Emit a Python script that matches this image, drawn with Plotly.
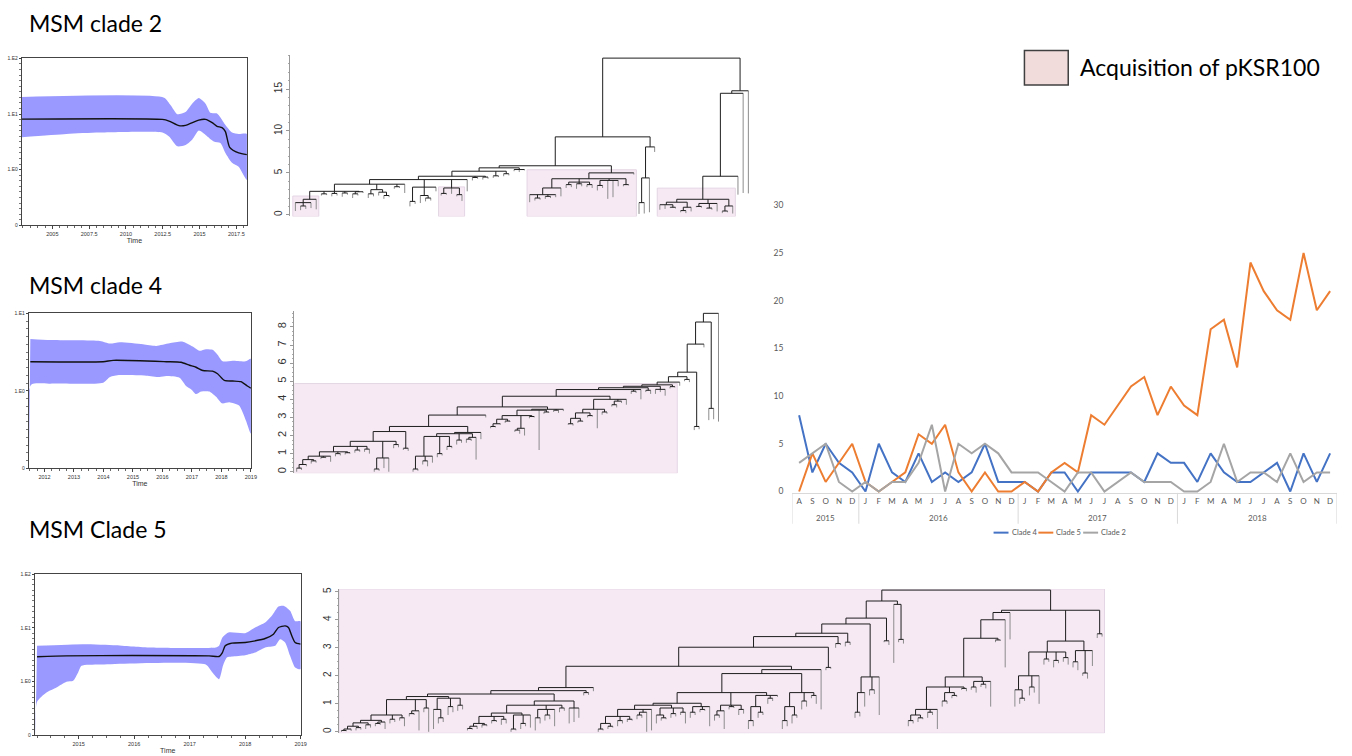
import plotly.graph_objects as go

W, H = 1352, 756

# ---------------------------------------------------------------- monthly counts
YEARS = ["2015"] * 5 + ["2016"] * 12 + ["2017"] * 12 + ["2018"] * 12
MONTHS = ["A", "S", "O", "N", "D"] + ["J", "F", "M", "A", "M", "J", "J", "A", "S", "O", "N", "D"] * 3
CLADE4 = [8, 2, 5, 3, 2, 0, 5, 2, 1, 4, 1, 2, 1, 2, 5, 1, 1, 1, 0, 2, 2, 0, 2, 2, 2, 2, 1, 4, 3,
          3, 1, 4, 2, 1, 1, 2, 3, 0, 4, 1, 4]
CLADE5 = [0, 4, 1, 3, 5, 1, 0, 1, 2, 6, 5, 7, 2, 0, 2, 0, 0, 1, 0, 2, 3, 2, 8, 7, 9, 11, 12, 8, 11,
          9, 8, 17, 18, 13, 24, 21, 19, 18, 25, 19, 21]
CLADE2 = [3, 4, 5, 1, 0, 1, 0, 1, 1, 3, 7, 0, 5, 4, 5, 4, 2, 2, 2, 1, 0, 2, 2, 0, 1, 2, 1, 1, 1,
          0, 0, 1, 5, 1, 2, 2, 1, 4, 1, 2, 2]
SERIES_NAMES = ["Clade 4", "Clade 5", "Clade 2"]
SERIES_COLORS = ["#4472C4", "#ED7D31", "#A5A5A5"]
COUNT_TICKS = [0, 5, 10, 15, 20, 25, 30]

# ---------------------------------------------------------------- skyline curves (log10 Ne)
SK2_T_MED = [2002.93, 2012.48, 2012.93, 2013.60, 2014.05, 2014.95, 2015.41, 2015.86, 2016.19,
             2016.53, 2016.76, 2017.05, 2017.66, 2018.22]
SK2_MED = [0.909, 0.903, 0.873, 0.791, 0.796, 0.891, 0.903, 0.844, 0.779, 0.755, 0.684, 0.401,
           0.301, 0.271]
SK2_T_UP = [2002.93, 2012.59, 2013.04, 2013.49, 2014.05, 2014.50, 2014.95, 2015.41, 2015.74,
            2016.19, 2016.42, 2016.76, 2017.21, 2017.66, 2018.22]
SK2_UP = [1.304, 1.292, 1.156, 0.997, 1.038, 1.186, 1.286, 1.186, 1.021, 1.009, 0.938, 0.802,
          0.667, 0.643, 0.643]
SK2_T_LO = [2002.93, 2005.95, 2008.20, 2012.48, 2012.93, 2013.49, 2014.05, 2014.50, 2014.95,
            2015.41, 2015.97, 2016.42, 2016.76, 2017.21, 2017.66, 2018.22]
SK2_LO = [0.584, 0.643, 0.667, 0.667, 0.596, 0.419, 0.442, 0.537, 0.702, 0.625, 0.507, 0.478,
          0.301, 0.124, 0.053, -0.183]

SK4_T_MED = [2011.52, 2013.99, 2014.33, 2016.13, 2016.63, 2016.92, 2017.14, 2017.37, 2017.70,
             2017.87, 2018.10, 2018.38, 2018.66, 2018.88, 2019.0]
SK4_MED = [0.376, 0.376, 0.393, 0.376, 0.368, 0.330, 0.304, 0.262, 0.254, 0.220, 0.135, 0.127,
           0.118, 0.063, 0.034]
SK4_T_UP = [2011.52, 2012.19, 2013.88, 2014.22, 2014.55, 2015.34, 2015.79, 2016.24, 2016.69,
            2017.03, 2017.25, 2017.48, 2017.70, 2017.87, 2018.04, 2018.38, 2018.83, 2019.0]
SK4_UP = [0.668, 0.655, 0.643, 0.609, 0.626, 0.600, 0.579, 0.613, 0.634, 0.571, 0.516, 0.537,
          0.529, 0.465, 0.381, 0.389, 0.381, 0.414]
SK4_T_LO = [2011.47, 2011.54, 2012.19, 2013.99, 2014.22, 2014.55, 2015.45, 2015.90, 2016.13,
            2016.58, 2016.80, 2016.97, 2017.14, 2017.31, 2017.59, 2017.82, 2018.02, 2018.27,
            2018.60, 2018.83, 2019.0]
SK4_LO = [-1.0, 0.076, 0.093, 0.106, 0.178, 0.203, 0.195, 0.178, 0.190, 0.169, 0.063, 0.021,
          -0.042, -0.008, -0.008, -0.076, -0.161, -0.148, -0.190, -0.381, -0.550]

SK5_T_MED = [2014.25, 2014.78, 2015.97, 2017.35, 2017.53, 2017.59, 2017.64, 2017.76, 2018.00,
             2018.18, 2018.36, 2018.51, 2018.60, 2018.72, 2018.78, 2018.84, 2018.90, 2019.0]
SK5_MED = [0.460, 0.478, 0.484, 0.478, 0.466, 0.540, 0.665, 0.714, 0.727, 0.758, 0.801, 0.882,
           1.006, 1.037, 1.006, 0.851, 0.727, 0.696]
SK5_T_UP = [2014.25, 2015.08, 2015.67, 2015.97, 2016.27, 2017.47, 2017.53, 2017.59, 2017.70,
            2018.00, 2018.18, 2018.36, 2018.48, 2018.60, 2018.69, 2018.81, 2018.90, 2019.0]
SK5_UP = [0.665, 0.696, 0.677, 0.652, 0.634, 0.634, 0.665, 0.820, 0.913, 0.901, 1.006, 1.099,
          1.224, 1.398, 1.410, 1.317, 1.124, 1.124]
SK5_T_LO = [2014.22, 2014.25, 2014.42, 2014.60, 2014.78, 2014.90, 2014.99, 2015.05, 2015.38,
            2017.29, 2017.41, 2017.53, 2017.60, 2017.67, 2017.76, 2018.00, 2018.18, 2018.36,
            2018.54, 2018.63, 2018.72, 2018.81, 2018.90, 2019.0]
SK5_LO = [-1.0, -0.379, -0.205, -0.112, -0.006, 0.012, 0.168, 0.292, 0.317, 0.317, 0.168, 0.043,
          0.292, 0.447, 0.466, 0.491, 0.540, 0.634, 0.665, 0.789, 0.727, 0.478, 0.261, 0.230]

NE_TICKS = [-1, 0, 1, 2]
NE_LABELS = ["0", "1.E0", "1.E1", "1.E2"]

# ---------------------------------------------------------------- dated trees
# "(child,child,...)H" = internal node at height H, bare number = tip height,
# "H*T" = clade carrying the plasmid, shaded up to height T.
C2_A = "((0.45,(0.55,0.7)1.05,0.8)1.45,0.65)1.85*2.24"
C2_L1 = f"({C2_A},(2.3,2.35)2.5,(2.2,2.3)2.55,(2.15,2.4)2.6,((2.0,2.3)2.5,2.6)2.75)2.8"
C2_L2 = f"({C2_L1},((2.0,2.2)2.5,(2.3,(1.9,2.1)2.3)2.7)3.0,(3.1,3.2)3.35,2.6)3.65"
C2_B = "((2.3,2.4)2.55,2.5,(2.2,1.65)2.4)3.2*3.33"
C2_L3 = f"({C2_L2},((1.0,1.3)1.6,(1.4,(1.6,1.7)2.0)2.3,2.8)3.3,{C2_B},2.8)4.2"
C2_L4 = f"({C2_L3},(4.1,4.3)4.45,(4.2,4.3)4.5)4.6"
C2_L5 = f"({C2_L4},(4.4,4.5)4.65,(4.6,4.7)4.9)5.2"
C2_L6 = f"({C2_L5},(5.2,5.1,5.3)5.4)5.6"
C2_C = ("((((1.5,(1.7,1.8)2.0,(1.9,2.0)2.2,2.1)2.4,2.2)3.2,((3.2,3.3)3.6,(3.1,3.4)3.7,"
        "(3.3,3.2)3.6)3.9,((2.9,3.2)3.5,1.9,2.1,3.4)4.1,(3.4,3.5)3.6)4.3,4.8)5.0*5.37")
C2_M = "(((0.1,0.15)1.45,0.3)4.4,7.5)8.1"
C2_D = ("(((0.6,0.7,(0.8,0.75)0.9)1.2,((0.3,0.2)0.5,0.4)0.9)1.5,((0.9,0.85)1.0,(0.7,0.6)0.8,"
        "0.4)1.35,((0.2,0.3)0.45,0.15)1.05)1.85*3.18")
C2_R = f"((({C2_D},2.4)4.6,2.6)14.5,2.55)14.8"
TREE_CLADE2 = f"((({C2_L6},{C2_C})5.85,{C2_M})9.3,{C2_R})18.7"

C4_A1 = "((0.0,0.1)0.2,0.3)0.4"
C4_A2 = f"({C4_A1},(0.45,0.5)0.6)0.67"
C4_A3 = f"({C4_A2},(0.7,0.75)0.8,0.55)0.86"
C4_A4 = f"({C4_A3},(0.85,0.9)1.0,(0.95,1.0)1.05)1.1"
C4_A5 = f"({C4_A4},(1.05,1.1)1.2,(1.1,1.0)1.25)1.4"
C4_A6 = f"({C4_A5},((0.0,0.05)0.15,0.2,0.0)0.76,(1.3,1.35)1.5)1.68"
C4_LEFT = f"({C4_A6},(1.2,1.15)1.3)2.22"
C4_B1 = "((0.0,0.05)0.15,(0.4,0.3)0.6,0.5)0.86"
C4_B2 = f"({C4_B1},(0.8,0.9)1.0,(1.2,1.3)1.4)1.95"
C4_MID = f"(({C4_B2},(1.5,1.6)1.75,((1.6,1.7)1.8,0.67)1.9)2.1,1.8)2.17"
C4_C1 = "((2.4,2.45)2.5,2.6)2.65"
C4_C2 = f"({C4_C1},(2.7,2.75)2.8)2.9"
C4_C3 = f"({C4_C2},((2.2,2.1)2.3,2.0)2.4,(2.95,3.0)3.05)3.1"
C4_C4 = f"({C4_C3},1.2,(3.2,3.25)3.3)3.4"
C4_THIRD = f"({C4_C4},(3.3,3.25)3.4,3.35)3.45"
C4_D1 = "((2.6,2.55)2.65,(2.7,2.75)2.8)2.95"
C4_D2 = f"({C4_D1},(3.0,3.05)3.1)3.25"
C4_D3 = f"({C4_D2},2.4,(3.15,3.2)3.3)3.45"
C4_FOURTH = f"({C4_D3},((3.6,3.55)3.7,3.8)3.9,3.7)4.0"
C4_S1 = f"((({C4_LEFT},{C4_MID})2.5,3.0)3.13,{C4_THIRD})3.58"
C4_S2 = f"(({C4_S1},{C4_FOURTH})4.17,(4.3,4.35)4.45,4.0)4.54"
C4_S3 = f"((({C4_S2},(4.4,4.3)4.5)4.64,(4.3,4.4,4.2)4.55)4.72,(4.6,4.65)4.7)4.8*4.87"
C4_U = f"(((({C4_S3},4.75)4.95,(5.0,4.95)5.1)5.25,(2.3,2.35)2.5)5.5,6.87)7.05"
TREE_CLADE4 = f"(({C4_U},(2.85,2.9)3.5)8.27,2.77)8.75"

C5_X1A = "((0.0,0.02)0.05,0.03)0.1"
C5_X1B = f"({C5_X1A},(0.05,0.08)0.15)0.2"
C5_X1C = f"({C5_X1B},(0.1,0.15)0.25)0.32"
C5_X1D = f"({C5_X1C},((0.2,0.25)0.3,0.1)0.35)0.41"
C5_X1E = f"({C5_X1D},(0.3,0.35)0.45,(0.4,0.2)0.5)0.6"
C5_X1 = f"({C5_X1E},((0.55,0.6)0.65,0.05)0.75,(0.7,0.0)0.85)1.15"
C5_X1S = "((0.1,(0.3,0.35)0.5)0.8,(0.6,0.7)0.9,(0.75,0.8)0.95)1.2"
C5_X2A = "(((0.05,0.08)0.12,0.1)0.2,(0.15,0.2)0.25)0.3"
C5_X2B = f"({C5_X2A},(0.3,0.35)0.4,(0.25,0.3)0.45)0.55"
C5_X2C = f"({C5_X2B},((0.0,0.05)0.1,(0.1,0.2)0.3,0.15)0.6)0.67"
C5_X2D = f"({C5_X2C},((0.05,0.3)0.5,(0.4,0.45)0.6,0.2)0.8,(0.7,0.75)0.85)0.95"
C5_X2 = f"({C5_X2D},(0.3,0.35,0.5)0.85)1.1"
C5_LEFT = f"(((({C5_X1},{C5_X1S})1.26,{C5_X2})1.35,(1.3,1.32)1.4)1.47,1.45)1.58"
C5_X3A1 = "((0.0,0.05)0.1,(0.1,0.15)0.2)0.3"
C5_X3A2 = f"({C5_X3A1},(0.2,0.3)0.4,(0.35,0.4)0.45)0.55"
C5_X3A = f"({C5_X3A2},((0.45,0.5)0.6,0.0)0.7,0.05)0.8"
C5_X3B = "((0.3,(0.4,0.45)0.5)0.6,(0.5,0.55)0.65,(0.6,0.3)0.7)0.85"
C5_X3C = "((0.5,0.6)0.7,(0.7,0.75)0.8,0.2)0.9"
C5_X3D = "(((0.4,0.5)0.6,0.1)0.75,(0.8,0.85)0.9,(0.6,0.65)0.8)0.95"
C5_X3E = "(((0.1,0.2)0.4,(0.5,0.6)0.7)0.9,(1.0,1.1)1.2,1.25)1.3"
C5_X3 = f"((({C5_X3A},{C5_X3B})0.95,{C5_X3C})1.02,{C5_X3D},{C5_X3E})1.4"
C5_X4 = "(((0.1,0.2)0.4,(0.3,0.5)0.6)0.9,(0.8,0.9)1.1,(1.2,1.0)1.3)1.4"
C5_P7 = f"({C5_LEFT},(({C5_X3},{C5_X4})2.08,0.8)2.22)2.34"
C5_P5 = f"(({C5_P7},(2.2,2.25)2.3)3.02,(3.0,3.1)3.15)3.4"
C5_P3 = f"(({C5_P5},(3.05,3.1)3.2)3.52,(((0.5,0.55)0.7,0.9)1.4,(1.3,1.35)1.5,0.6)1.96)3.85"
C5_P1 = f"(({C5_P3},(3.2,3.1)3.25)4.06,(2.46,(3.2,3.15)3.3)4.55)4.67"
C5_X5A1 = "((0.2,0.3)0.4,(0.35,0.45)0.5)0.6"
C5_X5A2 = f"({C5_X5A1},(0.5,0.6)0.7,0.1)0.8"
C5_X5A = f"({C5_X5A2},((0.9,1.0)1.1,(1.2,1.25)1.3)1.4,(1.5,1.45)1.55)1.6"
C5_X5B = "((1.5,1.4)1.6,(1.6,1.55)1.7,0.9)1.8"
C5_R2 = f"(((({C5_X5A},{C5_X5B})1.96,(3.2,3.25)3.28)3.34,2.3)4.0,3.3)4.26"
C5_R3A1 = "((0.9,(1.0,1.1)1.2)1.5,(1.3,1.4)1.6,1.0)2.0"
C5_R3A = f"({C5_R3A1},(2.4,2.5)2.6,(2.3,2.45)2.55,(2.5,2.4)2.65)2.85"
C5_R3B = "((2.3,2.2)2.5,(2.0,1.9)2.1,2.35)2.9"
C5_R1 = f"({C5_R2},({C5_R3A},{C5_R3B})3.24,(3.35,3.4)3.5)4.34"
TREE_CLADE5 = f"({C5_P1},{C5_R1})5.06*5.1"

TITLES = ["MSM clade 2", "MSM clade 4", "MSM Clade 5"]
KEY_TEXT = "Acquisition of pKSR100"

FONT = "Lato"
BAND = "rgb(153,153,255)"
SHADE = "#f6e9f4"


# ---------------------------------------------------------------- helpers
def dom_x(a, b):
    return [a / W, b / W]


def dom_y(top, bottom):
    return [1 - bottom / H, 1 - top / H]


def parse_tree(text):
    s = text.replace(" ", "")
    pos = 0

    def number():
        nonlocal pos
        start = pos
        while pos < len(s) and (s[pos].isdigit() or s[pos] in ".-"):
            pos += 1
        return float(s[start:pos])

    def node():
        nonlocal pos
        if s[pos] == "(":
            pos += 1
            kids = [node()]
            while s[pos] == ",":
                pos += 1
                kids.append(node())
            if s[pos] != ")":
                raise ValueError("bad tree near %d" % pos)
            pos += 1
            h = number()
            top = None
            if pos < len(s) and s[pos] == "*":
                pos += 1
                top = number()
            return {"h": h, "kids": kids, "shade": top}
        return {"h": number(), "kids": [], "shade": None}

    return node()


def layout_tree(root):
    inner, tips, boxes = [], [], []
    count = [0]

    def walk(n):
        if not n["kids"]:
            n["x"] = count[0]
            n["lo"] = n["hi"] = count[0]
            count[0] += 1
            return
        for k in n["kids"]:
            walk(k)
        xs = [k["x"] for k in n["kids"]]
        n["x"] = (xs[0] + xs[-1]) / 2
        n["lo"], n["hi"] = n["kids"][0]["lo"], n["kids"][-1]["hi"]
        inner.append((xs[0], n["h"], xs[-1], n["h"]))
        for k in n["kids"]:
            (inner if k["kids"] else tips).append((k["x"], n["h"], k["x"], k["h"]))
        if n["shade"] is not None:
            boxes.append((n["lo"], n["hi"], n["shade"]))

    walk(root)
    return count[0], inner, tips, boxes


def seg_xy(segs):
    xs, ys = [], []
    for x0, y0, x1, y1 in segs:
        xs += [x0, x1, None]
        ys += [y0, y1, None]
    return xs, ys


fig = go.Figure()
layout = {}
shapes = []
annotations = []

# ---------------------------------------------------------------- skyline panels
skylines = [
    dict(tm=SK2_T_MED, m=SK2_MED, tu=SK2_T_UP, u=SK2_UP, tl=SK2_T_LO, l=SK2_LO,
         box=(22, 248, 54, 223), xr=[2002.93, 2018.22], yr=[-1, 2],
         ticks=[2005, 2007.5, 2010, 2012.5, 2015, 2017.5], minor=0.5),
    dict(tm=SK4_T_MED, m=SK4_MED, tu=SK4_T_UP, u=SK4_UP, tl=SK4_T_LO, l=SK4_LO,
         box=(29, 252, 312, 469), xr=[2011.47, 2019.0], yr=[-1, 1],
         ticks=[2012, 2013, 2014, 2015, 2016, 2017, 2018, 2019], minor=0.25),
    dict(tm=SK5_T_MED, m=SK5_MED, tu=SK5_T_UP, u=SK5_UP, tl=SK5_T_LO, l=SK5_LO,
         box=(35, 302, 576, 739), xr=[2014.21, 2019.0], yr=[-1, 2],
         ticks=[2015, 2016, 2017, 2018, 2019], minor=0.25),
]
for i, sk in enumerate(skylines, start=1):
    xa, ya = f"x{i}", f"y{i}"
    fig.add_trace(go.Scatter(
        x=sk["tu"] + sk["tl"][::-1], y=sk["u"] + sk["l"][::-1], fill="toself",
        fillcolor=BAND, mode="lines", line=dict(width=0, shape="spline", smoothing=0.6),
        hoverinfo="skip", xaxis=xa, yaxis=ya))
    fig.add_trace(go.Scatter(
        x=sk["tm"], y=sk["m"], mode="lines",
        line=dict(color="#111", width=1.4, shape="spline", smoothing=0.6),
        hoverinfo="skip", xaxis=xa, yaxis=ya))
    x0, x1, top, bottom = sk["box"]
    yvals = [v for v in NE_TICKS if sk["yr"][0] <= v <= sk["yr"][1]]
    layout[f"xaxis{i}"] = dict(
        domain=dom_x(x0, x1), anchor=ya, range=sk["xr"], tickvals=sk["ticks"],
        ticktext=[("%g" % t) for t in sk["ticks"]], ticks="outside", ticklen=3,
        tickcolor="#444", showline=True, mirror=True, linecolor="#444", linewidth=1,
        showgrid=False, zeroline=False, tickfont=dict(size=5.5, color="#333", family="Arial"),
        minor=dict(ticks="outside", ticklen=1.5, dtick=sk["minor"], tickcolor="#666"),
        title=dict(text="Time", font=dict(size=7, color="#333", family="Arial"), standoff=2))
    layout[f"yaxis{i}"] = dict(
        domain=dom_y(top, bottom), anchor=xa, range=sk["yr"], tickvals=yvals,
        ticktext=[NE_LABELS[NE_TICKS.index(v)] for v in yvals], ticks="outside", ticklen=2,
        tickcolor="#444", showline=True, mirror=True, linecolor="#444", linewidth=1,
        showgrid=False, zeroline=False, tickfont=dict(size=5, color="#333", family="Arial"),
        minor=dict(ticks="outside", ticklen=1.5, dtick=0.1, tickcolor="#777"))

# ---------------------------------------------------------------- tree panels
trees = [
    dict(text=TREE_CLADE2, axis=(291.7, 755), tips=(296.7, 751.7), top=50.7, bottom=214,
         yr=[-0.2, 19.06], dtick=5, minor=1, fs=10),
    dict(text=TREE_CLADE4, axis=(295.7, 725), tips=(298, 721.7), top=309.3, bottom=474,
         yr=[-0.09, 8.9], dtick=1, minor=0.25, fs=11),
    dict(text=TREE_CLADE5, axis=(340.7, 1110), tips=(343, 1107), top=591, bottom=737,
         yr=[-0.05, 5.1], dtick=1, minor=0.25, fs=10),
]
for j, tr in enumerate(trees, start=4):
    xa, ya = f"x{j}", f"y{j}"
    n, inner, tip_segs, boxes = layout_tree(parse_tree(tr["text"]))
    a, b = tr["axis"]
    p0, p1 = tr["tips"]
    step = (p1 - p0) / (n - 1)
    xr = [-(p0 - a) / step, (n - 1) + (b - p1) / step]
    for lo, hi, ytop in boxes:
        shapes.append(dict(type="rect", xref=xa, yref=ya, layer="below",
                           x0=max(xr[0], lo - 0.5), x1=min(xr[1], hi + 0.5),
                           y0=tr["yr"][0], y1=ytop, fillcolor=SHADE,
                           line=dict(color="#e4d6e4", width=1)))
    tx, ty = seg_xy(tip_segs)
    fig.add_trace(go.Scatter(x=tx, y=ty, mode="lines", line=dict(color="#8c8c8c", width=1),
                             hoverinfo="skip", xaxis=xa, yaxis=ya))
    ix, iy = seg_xy(inner)
    fig.add_trace(go.Scatter(x=ix, y=iy, mode="lines", line=dict(color="#1e1e1e", width=1),
                             hoverinfo="skip", xaxis=xa, yaxis=ya))
    layout[f"xaxis{j}"] = dict(domain=dom_x(a, b), anchor=ya, range=xr, visible=False)
    layout[f"yaxis{j}"] = dict(
        domain=dom_y(tr["top"], tr["bottom"]), anchor=xa, range=tr["yr"], dtick=tr["dtick"],
        tick0=0, ticks="outside", ticklen=3, tickcolor="#999", showline=True, linecolor="#999",
        showgrid=False, zeroline=False, tickangle=-90,
        tickfont=dict(size=tr["fs"], color="#333", family="Arial"),
        minor=dict(ticks="outside", ticklen=1.5, dtick=tr["minor"], tickcolor="#aaa"))

# ---------------------------------------------------------------- monthly line chart
pos = list(range(len(MONTHS)))
for name, vals, color in zip(SERIES_NAMES, [CLADE4, CLADE5, CLADE2], SERIES_COLORS):
    fig.add_trace(go.Scatter(x=pos, y=vals, mode="lines", name=name,
                             line=dict(color=color, width=2), xaxis="x7", yaxis="y7"))
layout["xaxis7"] = dict(
    domain=dom_x(796, 1342.7), anchor="y7", range=[-0.5, len(MONTHS) - 0.5],
    tickvals=pos, ticktext=MONTHS, showline=True, linecolor="#d9d9d9", ticks="",
    showgrid=False, zeroline=False, tickfont=dict(size=8, color="#595959", family=FONT))
layout["yaxis7"] = dict(
    domain=dom_y(202.7, 493.8), anchor="x7", range=[-0.15, 30], tickvals=COUNT_TICKS,
    showgrid=False, zeroline=False, showline=False, ticks="", ticklabelstandoff=8,
    tickfont=dict(size=8.5, color="#595959", family=FONT))

# year groups under the month letters, with Excel-style dividers
edges = [-0.5] + [k - 0.5 for k in range(1, len(YEARS)) if YEARS[k] != YEARS[k - 1]] + [len(YEARS) - 0.5]
for e in edges:
    shapes.append(dict(type="line", xref="x7", yref="paper", x0=e, x1=e,
                       y0=1 - 525 / H, y1=1 - 493.8 / H, line=dict(color="#d9d9d9", width=1)))
for lo, hi in zip(edges[:-1], edges[1:]):
    annotations.append(dict(text=YEARS[int(lo + 0.5)], xref="x7", yref="paper",
                            x=(lo + hi) / 2, y=1 - 519 / H, showarrow=False,
                            xanchor="center", yanchor="middle",
                            font=dict(size=8, color="#595959", family=FONT)))

# hand-placed key for the three series
key_x = [998, 1043, 1088]
for x, name, color in zip(key_x, SERIES_NAMES, SERIES_COLORS):
    shapes.append(dict(type="line", xref="paper", yref="paper", x0=x / W, x1=(x + 15) / W,
                       y0=1 - 534 / H, y1=1 - 534 / H, line=dict(color=color, width=2)))
    annotations.append(dict(text=name, xref="paper", yref="paper", x=(x + 16) / W,
                            y=1 - 534 / H, xanchor="left", yanchor="middle", showarrow=False,
                            font=dict(size=7.5, color="#595959", family=FONT)))

# ---------------------------------------------------------------- titles and shading key
for title, (tx, tyc) in zip(TITLES, [(27, 18), (27, 283), (27, 530)]):
    annotations.append(dict(text=title, xref="paper", yref="paper", x=tx / W, y=1 - tyc / H,
                            xanchor="left", yanchor="middle", showarrow=False,
                            font=dict(size=23, color="#000", family=FONT)))
shapes.append(dict(type="rect", xref="paper", yref="paper", x0=1029 / W, x1=1073 / W,
                   y0=1 - 81 / H, y1=1 - 46 / H, fillcolor="#f2dcdb",
                   line=dict(color="#404040", width=1.5)))
annotations.append(dict(text=KEY_TEXT, xref="paper", yref="paper", x=1083 / W, y=1 - 63 / H,
                        xanchor="left", yanchor="middle", showarrow=False,
                        font=dict(size=23, color="#000", family=FONT)))

fig.update_layout(width=W, height=H, margin=dict(l=0, r=0, t=0, b=0),
                  paper_bgcolor="white", plot_bgcolor="white", showlegend=False,
                  shapes=shapes, annotations=annotations, **layout)
fig.write_html("out.html", post_script="document.body.style.margin='0';")
